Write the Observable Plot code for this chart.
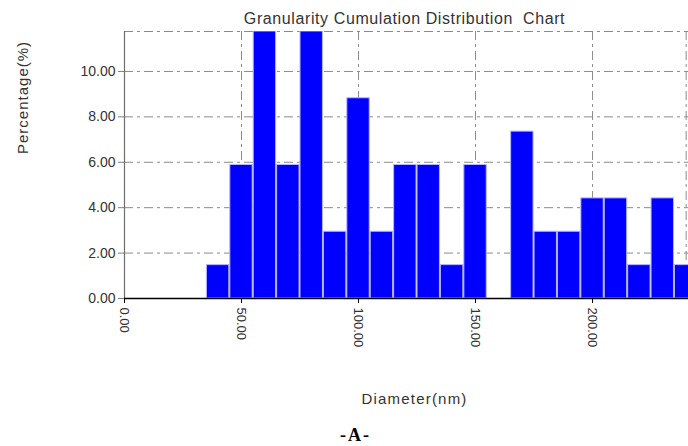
<!DOCTYPE html>
<html>
<head>
<meta charset="utf-8">
<script src="https://cdn.jsdelivr.net/npm/d3@7"></script>
<script src="https://cdn.jsdelivr.net/npm/@observablehq/plot@0.6"></script>
<style>
  html, body { margin: 0; padding: 0; background: #fff; }
  #chart svg { display: block; }
</style>
</head>
<body>
<div id="chart"></div>
<script>
// Bin centres (nm) and percentage in each bin
const diameters = [40, 50, 60, 70, 80, 90, 100, 110, 120, 130, 140, 150, 160, 170, 180, 190, 200, 210, 220, 230, 240];
const percents  = [1.47, 5.88, 11.76, 5.88, 11.76, 2.94, 8.82, 2.94, 5.88, 5.88, 1.47, 5.88, 0, 7.35, 2.94, 2.94, 4.41, 4.41, 1.47, 4.41, 1.47];

const xTicks = [0, 50, 100, 150, 200];
const xGrid = [50, 100, 150, 200, 240];
const yTicks = [0, 2, 4, 6, 8, 10];
const yGrid = [2, 4, 6, 8, 10, 11.76];

const titleText = "Granularity Cumulation Distribution  Chart";
const xLabel = "Diameter(nm)";
const yLabel = "Percentage(%)";
const caption = "-A-";

const data = diameters.map((d, i) => ({d, p: percents[i]})).filter(r => r.p > 0);
const dash = "9,4,3,4";

const chart = Plot.plot({
  width: 688,
  height: 446,
  marginLeft: 124,
  marginRight: 0,
  marginTop: 31,
  marginBottom: 148,
  x: {domain: [0, 241], axis: null},
  y: {domain: [0, 11.76], axis: null},
  style: {fontFamily: "'Liberation Sans', Arial, sans-serif", background: "#fff", color: "#333"},
  marks: [
    Plot.ruleY(yGrid, {stroke: "#8a8a8a", strokeDasharray: dash, strokeWidth: 1}),
    Plot.ruleX(xGrid, {stroke: "#8a8a8a", strokeDasharray: dash, strokeWidth: 1}),
    Plot.rectY(data, {
      x1: r => r.d - 5, x2: r => r.d + 5, y: "p",
      fill: "#0000ff", stroke: "#b4b4ff", strokeWidth: 1, insetLeft: 0.5, insetRight: 0.5,
      clip: true
    }),
    Plot.ruleX([0], {stroke: "#6e6e6e", strokeWidth: 1.2}),
    Plot.ruleY([0], {stroke: "#000", strokeWidth: 1.5}),
    Plot.axisY({ticks: yTicks, tickFormat: d => d.toFixed(2), tickSize: 6, tickPadding: 3,
      stroke: "#808080", fill: "#333", fontSize: 14, label: null}),
    Plot.axisX({ticks: xTicks, tickFormat: d => d.toFixed(2), tickSize: 5, tickPadding: 4,
      tickRotate: 90, stroke: "#000", fill: "#333", fontSize: 13, label: null}),
    Plot.text([titleText], {frameAnchor: "top", dx: -2, dy: -8, lineAnchor: "bottom",
      fontSize: 16, fill: "#333", className: "t-title"}),
    Plot.text([xLabel], {frameAnchor: "bottom", dx: 8, dy: 105, lineAnchor: "bottom",
      fontSize: 15, fill: "#333", className: "t-xlabel"}),
    Plot.text([yLabel], {frameAnchor: "left", dx: -101, dy: -11, rotate: -90,
      fontSize: 15, fill: "#333", className: "t-ylabel"}),
    Plot.text([caption], {frameAnchor: "bottom", dx: -51, dy: 142, lineAnchor: "bottom",
      fontSize: 18, fontWeight: "bold", fill: "#000", fontFamily: "'Liberation Serif', 'Times New Roman', serif",
      className: "t-cap"})
  ]
});

d3.select(chart).selectAll(".t-title text").style("letter-spacing", "0.6px");
d3.select(chart).selectAll(".t-xlabel text").style("letter-spacing", "1.2px");
d3.select(chart).selectAll(".t-ylabel text").style("letter-spacing", "1px");
d3.select(chart).selectAll(".t-cap text").style("letter-spacing", "2px");

document.getElementById("chart").append(chart);
</script>
</body>
</html>
